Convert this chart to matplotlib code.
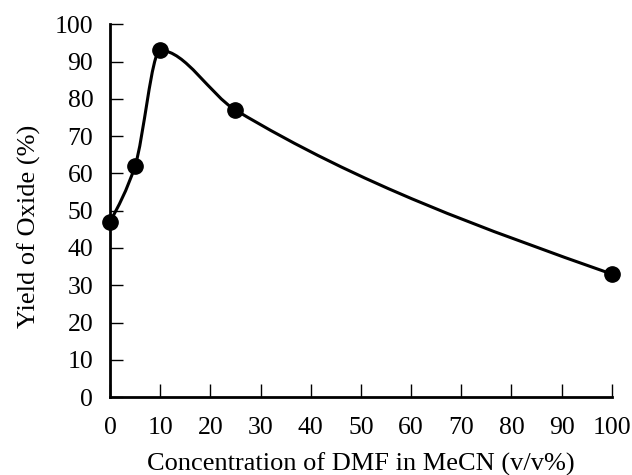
import numpy as np
import matplotlib.pyplot as plt
from matplotlib.path import Path
from matplotlib.patches import PathPatch

# DMF concentration in MeCN (v/v%) vs oxide yield (%)
conc = np.array([0, 5, 10, 25, 100])
oxide_yield = np.array([47, 62, 93, 77, 33])

xticks = np.arange(0, 101, 10)
yticks = np.arange(0, 101, 10)

plt.rcParams['font.family'] = ['Liberation Serif', 'DejaVu Serif']


def curve_slopes(x, y):
    # monotone tangents inside, "natural" condition at the two ends
    h = np.diff(x).astype(float)
    d = np.diff(y) / h
    m = np.zeros(len(x))
    for i in range(1, len(x) - 1):
        if d[i - 1] * d[i] > 0:
            w1 = 2 * h[i] + h[i - 1]
            w2 = h[i] + 2 * h[i - 1]
            m[i] = (w1 + w2) / (w1 / d[i - 1] + w2 / d[i])
    m[0] = (3 * d[0] - m[1]) / 2
    m[-1] = (3 * d[-1] - m[-2]) / 2
    return m


slopes = curve_slopes(conc, oxide_yield)
verts = [(conc[0], oxide_yield[0])]
codes = [Path.MOVETO]
for i in range(len(conc) - 1):
    h = conc[i + 1] - conc[i]
    verts += [(conc[i] + h / 3, oxide_yield[i] + slopes[i] * h / 3),
              (conc[i + 1] - h / 3, oxide_yield[i + 1] - slopes[i + 1] * h / 3),
              (conc[i + 1], oxide_yield[i + 1])]
    codes += [Path.CURVE4] * 3

fig = plt.figure(figsize=(6.32, 4.75), dpi=100)
ax = fig.add_axes([0.174, 0.164, 0.794, 0.785])

ax.add_patch(PathPatch(Path(verts, codes), facecolor='none', edgecolor='black',
                       lw=2.2, clip_on=False))
ax.plot(conc, oxide_yield, 'o', color='black', markersize=11, clip_on=False, zorder=3)

ax.set_xlim(0, 100)
ax.set_ylim(0, 100)
ax.set_xticks(xticks)
ax.set_yticks(yticks)
ax.tick_params(direction='in', length=9.5, width=1, labelsize=18.5)
ax.tick_params(axis='x', pad=14)
ax.tick_params(axis='y', pad=12)
for s in ['top', 'right']:
    ax.spines[s].set_visible(False)
for s in ['left', 'bottom']:
    ax.spines[s].set_linewidth(2)

ax.set_xlabel('Concentration of DMF in MeCN (v/v%)', fontsize=19, labelpad=10)
ax.set_ylabel('Yield of Oxide (%)', fontsize=19, labelpad=10)
ax.yaxis.label.set_y(0.458)

plt.savefig('out.png', dpi=100)
